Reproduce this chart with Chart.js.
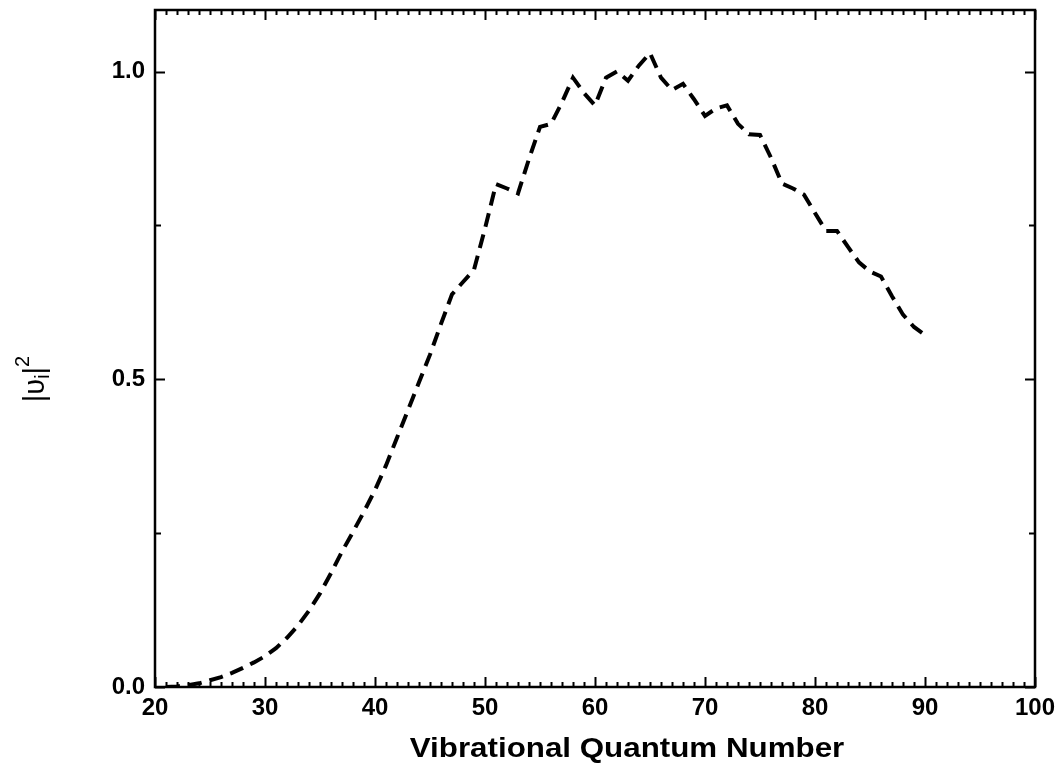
<!DOCTYPE html>
<html>
<head>
<meta charset="utf-8">
<title>Vibrational Quantum Number</title>
<script src="https://cdn.jsdelivr.net/npm/chart.js@4.4.1/dist/chart.umd.min.js"></script>
<style>
    html, body { margin: 0; padding: 0; background: #fff; }
    #wrap { width: 1059px; height: 766px; position: relative; }
</style>
</head>
<body>
<div id="wrap"><canvas id="vibChart"></canvas></div>
<script>
// vibrational quantum number v and population |v_i|^2
const quantumNumbers = [
    21, 22, 23, 24, 25, 26, 27, 28, 29, 30,
    31, 32, 33, 34, 35, 36, 37, 38, 39, 40,
    41, 42, 43, 44, 45, 46, 47, 48, 49, 50,
    51, 52, 53, 54, 55, 56, 57, 58, 59, 60,
    61, 62, 63, 64, 65, 66, 67, 68, 69, 70,
    71, 72, 73, 74, 75, 76, 77, 78, 79, 80,
    81, 82, 83, 84, 85, 86, 87, 88, 89, 90
];
const population = [
    0.000, 0.001, 0.003, 0.006, 0.011, 0.016, 0.023, 0.031, 0.040, 0.050,
    0.063, 0.080, 0.100, 0.124, 0.152, 0.185, 0.220, 0.252, 0.285, 0.320,
    0.360, 0.405, 0.450, 0.495, 0.540, 0.590, 0.638, 0.658, 0.678, 0.745,
    0.817, 0.810, 0.802, 0.858, 0.910, 0.915, 0.950, 0.990, 0.965, 0.945,
    0.990, 1.000, 0.985, 1.010, 1.030, 0.990, 0.970, 0.980, 0.955, 0.928,
    0.940, 0.945, 0.915, 0.898, 0.897, 0.860, 0.818, 0.810, 0.800, 0.770,
    0.741, 0.741, 0.715, 0.690, 0.675, 0.667, 0.635, 0.605, 0.585, 0.572
];

const xTicks = [20, 30, 40, 50, 60, 70, 80, 90, 100];
const yTicks = [0.0, 0.5, 1.0];
const xTitle = 'Vibrational Quantum Number';

const points = quantumNumbers.map((v, i) => ({ x: v, y: population[i] }));
const FONT = '"Liberation Sans", Arial, sans-serif';

// box round the plot with ticks pointing inward on all four sides
const frameTicks = {
    id: 'frameTicks',
    afterDatasetsDraw(chart) {
        const { ctx, chartArea: a, scales: { x, y } } = chart;
        ctx.save();
        ctx.strokeStyle = '#000';
        ctx.lineCap = 'butt';

        ctx.lineWidth = 2;
        // minor ticks on x every 1 unit
        for (let v = xTicks[0]; v <= xTicks[xTicks.length - 1]; v += 1) {
            const px = Math.round(x.getPixelForValue(v)) + 0.5;
            const len = (v % 10 === 0) ? 10 : 5;
            ctx.beginPath();
            ctx.moveTo(px, a.bottom); ctx.lineTo(px, a.bottom - len);
            ctx.moveTo(px, a.top); ctx.lineTo(px, a.top + len);
            ctx.stroke();
        }
        // y ticks every 0.25, long ones on labelled values
        for (let v = 0; v <= 1.0001; v += 0.25) {
            const py = Math.round(y.getPixelForValue(v)) + 0.5;
            const len = yTicks.some(t => Math.abs(t - v) < 1e-6) ? 10 : 6;
            ctx.beginPath();
            ctx.moveTo(a.left, py); ctx.lineTo(a.left + len, py);
            ctx.moveTo(a.right, py); ctx.lineTo(a.right - len, py);
            ctx.stroke();
        }

        ctx.lineWidth = 2.5;
        ctx.strokeRect(a.left, a.top, a.right - a.left, a.bottom - a.top);
        ctx.restore();
    }
};

// axis titles: wide bold x title, rotated |υ_i|^2 with sub/superscript
const axisTitles = {
    id: 'axisTitles',
    afterDraw(chart) {
        const { ctx } = chart;
        ctx.save();
        ctx.fillStyle = '#000';

        ctx.font = 'bold 27px ' + FONT;
        ctx.textAlign = 'center';
        ctx.textBaseline = 'alphabetic';
        ctx.translate(627, 757);
        ctx.scale(1.16, 1);
        ctx.fillText(xTitle, 0, 0);
        ctx.restore();

        ctx.save();
        ctx.fillStyle = '#000';
        ctx.textBaseline = 'alphabetic';
        ctx.textAlign = 'left';
        ctx.translate(44, 379);
        ctx.rotate(-Math.PI / 2);
        const parts = [
            { t: '|υ', size: 29, dy: 0 },
            { t: 'i', size: 20, dy: 5 },
            { t: '|', size: 29, dy: 0 },
            { t: '2', size: 20, dy: -15 }
        ];
        let w = 0;
        parts.forEach(p => { ctx.font = p.size + 'px ' + FONT; w += ctx.measureText(p.t).width; });
        let cx = -w / 2;
        parts.forEach(p => {
            ctx.font = p.size + 'px ' + FONT;
            ctx.fillText(p.t, cx, p.dy);
            cx += ctx.measureText(p.t).width;
        });
        ctx.restore();
    }
};

new Chart(document.getElementById('vibChart'), {
    type: 'line',
    data: {
        datasets: [{
            data: points,
            borderColor: '#000',
            borderWidth: 4,
            borderDash: [14, 8],
            pointRadius: 0,
            tension: 0,
            fill: false
        }]
    },
    options: {
        responsive: true,
        maintainAspectRatio: false,
        animation: false,
        layout: { padding: { top: 10, right: 24, left: 0, bottom: 0 } },
        plugins: {
            legend: { display: false },
            tooltip: { enabled: false }
        },
        scales: {
            x: {
                type: 'linear',
                min: 20,
                max: 100,
                afterBuildTicks: (scale) => { scale.ticks = xTicks.map(v => ({ value: v })); },
                afterFit: (scale) => {
                    scale.height = 79;
                    scale.paddingLeft = 0;
                    scale.paddingRight = 0;
                },
                grid: { display: false, drawTicks: false },
                border: { display: false },
                ticks: {
                    padding: 7,
                    color: '#000',
                    maxRotation: 0,
                    font: { family: FONT, size: 24, weight: 'bold' }
                }
            },
            y: {
                type: 'linear',
                min: 0,
                max: 1.1,
                afterBuildTicks: (scale) => { scale.ticks = yTicks.map(v => ({ value: v })); },
                afterFit: (scale) => {
                    scale.width = 155;
                    scale.paddingTop = 0;
                    scale.paddingBottom = 0;
                },
                grid: { display: false, drawTicks: false },
                border: { display: false },
                ticks: {
                    padding: 10,
                    color: '#000',
                    callback: (v) => Number(v).toFixed(1),
                    font: { family: FONT, size: 24, weight: 'bold' }
                }
            }
        }
    },
    plugins: [frameTicks, axisTitles]
});
</script>
</body>
</html>
